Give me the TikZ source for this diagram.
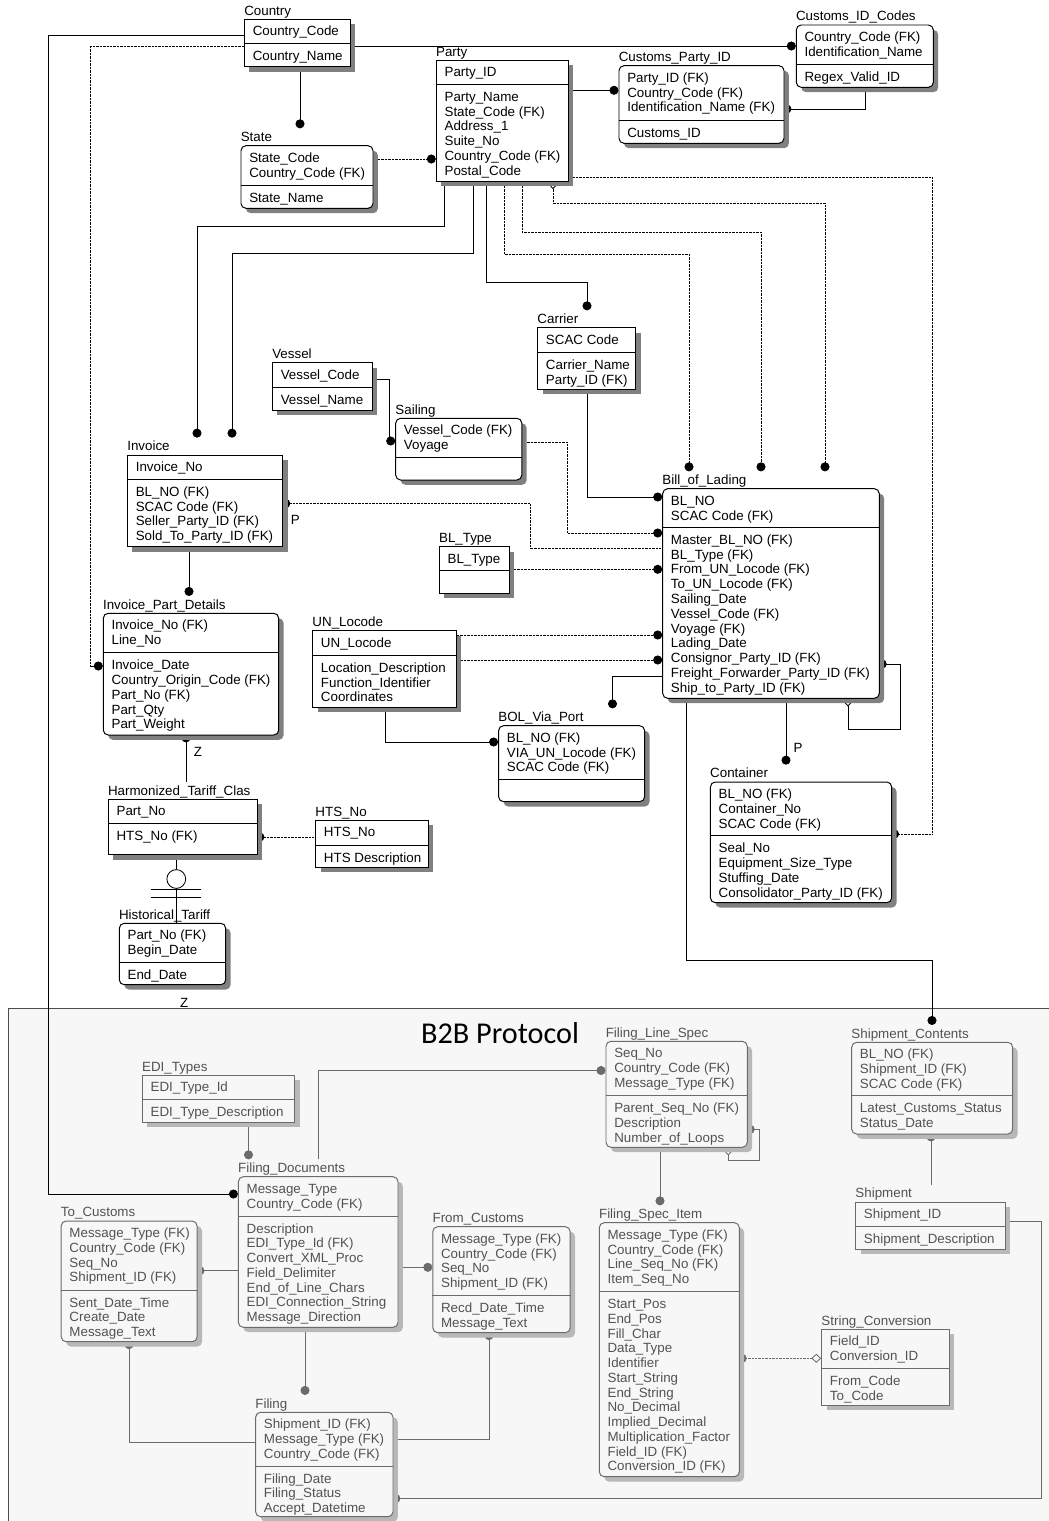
\documentclass[tikz,border=0pt]{standalone}
\usepackage{fontspec}
\setmainfont{Liberation Sans}
\newfontfamily\bannerfont{Carlito}
\usetikzlibrary{arrows.meta,calc,fit,shadows}
\pgfdeclarelayer{back}
\pgfdeclarelayer{lines}
\pgfsetlayers{back,lines,main}
\colorlet{linec}{black}
\colorlet{textc}{black}
\colorlet{boxc}{white}
\colorlet{shadowc}{black!50}
\newcommand{\efont}{\fontsize{9.5}{10.5}\selectfont}
% entity: [style]{name}{top left}{bottom right}{divider y}{title}{keys}{attributes}
\newcommand{\entity}[8][]{%
  \node[ent,#1,fit={(#3) (#4)}] (#2) {};
  \node[etitle] (#2-title) at ($(#2.north west)+(0,-3.8)$) {#6};
  \begin{scope}
    \clip (#3) rectangle ($(#4)+(-1.5,0)$);
    \node[etext] (#2-keys) at ($(#2.north west)+(8.5,0)$) {\rule{0pt}{12pt}#7};
    \node[etext] (#2-attrs) at ($(#2.west |- 0,#5)+(8.5,0)$) {\rule{0pt}{12pt}#8};
  \end{scope}
  \draw[sep] (#2.west |- 0,#5) -- (#2.east |- 0,#5);
}

\begin{document}
\begin{tikzpicture}[x=0.025cm,y=-0.025cm,
    ent/.style={draw=linec,fill=boxc,line width=0.7pt,inner sep=0pt,
      drop shadow={shadow xshift=3.5pt,shadow yshift=-3.5pt,fill=shadowc,opacity=1}},
    dep/.style={rounded corners=3.5pt},
    sep/.style={draw=linec,line width=0.7pt},
    etitle/.style={anchor=base west,inner sep=0pt,text=textc,font=\efont},
    etext/.style={anchor=north west,inner sep=0pt,align=left,text=textc,font=\efont},
    rel/.style={draw=linec,line width=0.6pt},
    nonid/.style={dash pattern=on 0.5pt off 0.5pt},
    erdot/.tip={Circle[length=6.4pt]},
    erdia/.tip={Diamond[open,length=7pt,width=6.4pt]},
    ontop/.style={shorten >=12pt},
    fromtop/.style={shorten <=12pt},
    pd/.style={shorten >=-1.5pt},
    lbl/.style={font=\efont,text=textc,inner sep=0pt}]
  \useasboundingbox (0,0) rectangle (1049,1521);
  \begin{pgfonlayer}{back}
    \fill[gray!6] (8.5,1008.5) rectangle (1049,1521);
    \draw[black!70,line width=0.7pt] (8.5,1521) |- (1049,1008.5);
  \end{pgfonlayer}
  \node[font=\bannerfont\fontsize{21.5}{24}\selectfont] (banner) at (500,1033) {B2B Protocol};

  % logistics entities
  \entity{country}{244.5,19.3}{350.2,66.7}{43.7}{Country}{Country\_Code}{Country\_Name}
  \entity{party}{436.3,60.3}{568.3,181}{84.3}{Party}{Party\_ID}{Party\_Name\\State\_Code (FK)\\Address\_1\\Suite\_No\\Country\_Code (FK)\\Postal\_Code}
  \entity[dep]{state}{241,145.7}{373,208.3}{185.3}{State}{State\_Code\\Country\_Code (FK)}{State\_Name}
  \entity[dep]{cidc}{796.3,25}{933.3,87.3}{64.3}{Customs\_ID\_Codes}{Country\_Code (FK)\\Identification\_Name}{Regex\_Valid\_ID}
  \entity[dep]{cpid}{619,65.7}{784,143.3}{120}{Customs\_Party\_ID}{Party\_ID (FK)\\Country\_Code (FK)\\Identification\_Name (FK)}{Customs\_ID}
  \entity{carrier}{537.7,327.7}{635.7,389.3}{352.3}{Carrier}{SCAC Code}{Carrier\_Name\\Party\_ID (FK)}
  \entity{vessel}{272.5,362.7}{372,410}{387.7}{Vessel}{Vessel\_Code}{Vessel\_Name}
  \entity[dep]{sailing}{395.7,418.3}{521.8,480}{457}{Sailing}{Vessel\_Code (FK)\\Voyage}{}
  \entity{invoice}{127.5,455}{282.9,546.7}{479.3}{Invoice}{Invoice\_No}{BL\_NO (FK)\\SCAC Code (FK)\\Seller\_Party\_ID (FK)\\Sold\_To\_Party\_ID (FK)}
  \entity{bltype}{439.3,546.7}{509,593.3}{570.7}{BL\_Type}{BL\_Type}{}
  \entity[dep]{bol}{662.7,488.7}{879.3,698.3}{527.3}{Bill\_of\_Lading}{BL\_NO\\SCAC Code (FK)}{Master\_BL\_NO (FK)\\BL\_Type (FK)\\From\_UN\_Locode (FK)\\To\_UN\_Locode (FK)\\Sailing\_Date\\Vessel\_Code (FK)\\Voyage (FK)\\Lading\_Date\\Consignor\_Party\_ID (FK)\\Freight\_Forwarder\_Party\_ID (FK)\\Ship\_to\_Party\_ID (FK)}
  \entity[dep]{bvp}{498.6,725.7}{644.6,801.7}{779.3}{BOL\_Via\_Port}{BL\_NO (FK)\\VIA\_UN\_Locode (FK)\\SCAC Code (FK)}{}
  \entity[dep]{container}{710.4,782}{891.7,902.7}{835.7}{Container}{BL\_NO (FK)\\Container\_No\\SCAC Code (FK)}{Seal\_No\\Equipment\_Size\_Type\\Stuffing\_Date\\Consolidator\_Party\_ID (FK)}
  \entity[dep]{ipd}{103.3,613.3}{278.7,735}{652.7}{Invoice\_Part\_Details}{Invoice\_No (FK)\\Line\_No}{Invoice\_Date\\Country\_Origin\_Code (FK)\\Part\_No (FK)\\Part\_Qty\\Part\_Weight}
  \entity{unloc}{312.7,630.7}{456.3,707}{655.3}{UN\_Locode}{UN\_Locode}{Location\_Description\\Function\_Identifier\\Coordinates}
  \entity{harm}{108.3,799.3}{257,854.7}{823.7}{Harmonized\_Tariff\_Clas}{Part\_No}{HTS\_No (FK)}
  \entity{hts}{315.7,820.3}{428.3,867.3}{845.7}{HTS\_No}{HTS\_No}{HTS Description}
  \entity[dep]{hist}{119.3,923.3}{225.7,984.7}{962.3}{Historical\_Tariff}{Part\_No (FK)\\Begin\_Date}{End\_Date}
  \node[circle,draw=linec,fill=white,line width=0.6pt,minimum size=0.47cm,inner sep=0pt] (sub) at (176.3,879) {};

  \begin{pgfonlayer}{lines}
    \draw[rel,-erdot,ontop] (country.south -| 300,0) -- (state.north -| 300,0);
    \draw[rel,nonid,-erdot] (state.east |- 0,159) -- (party.west |- 0,159);
    \draw[rel,-erdot] (country.east |- 0,46) -- (cidc.west |- 0,46);
    \draw[rel,nonid,-erdot] (country.west |- 0,46) -| (90.5,666) -- (ipd.west |- 0,666);
    \draw[rel,-erdot] (party.east |- 0,90.3) -- (cpid.west |- 0,90.3);
    \draw[rel,-erdot,pd] (cidc.south -| 865,0) |- (cpid.east |- 0,109);
    \draw[rel,nonid,-erdot,pd] (party.east |- 0,177.3) -| (932,834) -- (container.east |- 0,834);
    \draw[rel,-erdot,ontop] (party.south -| 444,0) |- (197,226) -- (invoice.north -| 197,0);
    \draw[rel,-erdot,ontop] (party.south -| 473,0) |- (232,253) -- (invoice.north -| 232,0);
    \draw[rel,-erdot,ontop] (party.south -| 486,0) |- (587,282) -- (carrier.north -| 587,0);
    \draw[rel,nonid,-erdot,ontop] (party.south -| 504,0) |- (689,254) -- (bol.north -| 689,0);
    \draw[rel,nonid,-erdot,ontop] (party.south -| 522,0) |- (761,232) -- (bol.north -| 761,0);
    \draw[rel,nonid,erdia-erdot,ontop,shorten <=-1.5pt] (party.south -| 553,0) |- (825,203) -- (bol.north -| 825,0);
    \draw[rel,-erdot] (vessel.east |- 0,379) -| (389.5,441) -- (sailing.west |- 0,441);
    \draw[rel,-erdot] (carrier.south -| 587,0) |- (bol.west |- 0,497);
    \draw[rel,nonid,-erdot] (sailing.east |- 0,442) -| (567,533) -- (bol.west |- 0,533);
    \draw[rel,nonid,-erdot,pd] (bol.west |- 0,548.3) -| (530,503.5) -- (invoice.east |- 0,503.5);
    \draw[rel,nonid,-erdot] (bltype.east |- 0,569.3) -- (bol.west |- 0,569.3);
    \draw[rel,nonid,-erdot] (unloc.east |- 0,635) -- (bol.west |- 0,635);
    \draw[rel,nonid,-erdot] (unloc.east |- 0,660) -- (bol.west |- 0,660);
    \draw[rel,-erdot,ontop] (bol.west |- 0,676) -| (bvp.north -| 612.5,0);
    \draw[rel,-erdot] (unloc.south -| 385,0) |- (bvp.west |- 0,742);
    \draw[rel,erdia-erdot,pd,shorten <=-1.5pt] (bol.south -| 848,0) |- (900,729) |- (bol.east |- 0,664);
    \draw[rel,-erdot,ontop] (bol.south -| 786,0) -- (container.north -| 786,0);
    \draw[rel,-erdot,ontop] (invoice.south -| 189,0) -- (ipd.north -| 189,0);
    \draw[rel,-erdot,pd,fromtop] (harm.north -| 186,0) -- (ipd.south -| 186,0);
    \draw[rel,nonid,-erdot,pd] (hts.west |- 0,837) -- (harm.east |- 0,837);
    \draw[rel] (harm.south -| sub.center) -- (sub.north);
    \draw[rel] (sub.south) -- (hist.north -| sub.center);
    \draw[rel] ($(sub.south)+(-25,1)$) -- ++(50,0);
    \draw[rel] ($(sub.south)+(-25,8.4)$) -- ++(50,0);
  \end{pgfonlayer}
  \node[lbl] (p-inv) at (295.4,520) {P};
  \node[lbl] (p-cont) at (798,748.3) {P};
  \node[lbl] (z-ipd) at (198,752.3) {Z};
  \node[lbl] (z-hist) at (184.3,1002.7) {Z};

  % B2B protocol entities
  \colorlet{linec}{black!58}
  \colorlet{textc}{black!68}
  \colorlet{boxc}{gray!6}
  \colorlet{shadowc}{black!28}
  \entity{edi}{142.4,1075.3}{294.7,1122.3}{1099}{EDI\_Types}{EDI\_Type\_Id}{EDI\_Type\_Description}
  \entity[dep]{fdoc}{238.4,1176.7}{398,1327.3}{1216}{Filing\_Documents}{Message\_Type\\Country\_Code (FK)}{Description\\EDI\_Type\_Id (FK)\\Convert\_XML\_Proc\\Field\_Delimiter\\End\_of\_Line\_Chars\\EDI\_Connection\_String\\Message\_Direction}
  \entity[dep]{fls}{606,1041.3}{747.3,1147.3}{1095.3}{Filing\_Line\_Spec}{Seq\_No\\Country\_Code (FK)\\Message\_Type (FK)}{Parent\_Seq\_No (FK)\\Description\\Number\_of\_Loops}
  \entity[dep]{shc}{851.7,1042.3}{1012.7,1134}{1095.7}{Shipment\_Contents}{BL\_NO (FK)\\Shipment\_ID (FK)\\SCAC Code (FK)}{Latest\_Customs\_Status\\Status\_Date}
  \entity{ship}{855.7,1202}{1005.3,1249}{1226.7}{Shipment}{Shipment\_ID}{Shipment\_Description}
  \entity[dep]{toc}{61.2,1221}{197.1,1341.7}{1290}{To\_Customs}{Message\_Type (FK)\\Country\_Code (FK)\\Seq\_No\\Shipment\_ID (FK)}{Sent\_Date\_Time\\Create\_Date\\Message\_Text}
  \entity[dep]{fromc}{432.8,1226.7}{570.2,1332.7}{1295.3}{From\_Customs}{Message\_Type (FK)\\Country\_Code (FK)\\Seq\_No\\Shipment\_ID (FK)}{Recd\_Date\_Time\\Message\_Text}
  \entity[dep]{filing}{255.6,1412.3}{393,1516.7}{1466}{Filing}{Shipment\_ID (FK)\\Message\_Type (FK)\\Country\_Code (FK)}{Filing\_Date\\Filing\_Status\\Accept\_Datetime}
  \entity[dep]{fsi}{599.3,1222.7}{739.3,1476.7}{1291.3}{Filing\_Spec\_Item}{Message\_Type (FK)\\Country\_Code (FK)\\Line\_Seq\_No (FK)\\Item\_Seq\_No}{Start\_Pos\\End\_Pos\\Fill\_Char\\Data\_Type\\Identifier\\Start\_String\\End\_String\\No\_Decimal\\Implied\_Decimal\\Multiplication\_Factor\\Field\_ID (FK)\\Conversion\_ID (FK)}
  \entity{strc}{821.7,1329.3}{949,1405}{1368.3}{String\_Conversion}{Field\_ID\\Conversion\_ID}{From\_Code\\To\_Code}

  \begin{pgfonlayer}{lines}
    \draw[rel,-erdot,ontop] (edi.south -| 248.5,0) -- (fdoc.north -| 248.5,0);
    \draw[rel,-erdot,fromtop] (fdoc.north -| 318.5,0) |- (fls.west |- 0,1070.5);
    \draw[rel,-erdot,ontop] (fls.south -| 660,0) -- (fsi.north -| 660,0);
    \draw[rel,erdia-erdot,pd,shorten <=-1.5pt] (fls.south -| 728.3,0) |- (759,1160) |- (fls.east |- 0,1129.3);
    \draw[rel,nonid,erdot-erdia,shorten <=-1.5pt] (fsi.east |- 0,1358.3) -- (strc.west |- 0,1358.3);
    \draw[rel,-erdot,pd,fromtop] (ship.north -| 931,0) -- (shc.south -| 931,0);
    \draw[rel,-erdot,pd] (ship.east |- 0,1221.7) -| (1041,1498.5) -- (filing.east |- 0,1498.5);
    \draw[rel,-erdot,pd] (fdoc.west |- 0,1270.7) -- (toc.east |- 0,1270.7);
    \draw[rel,-erdot] (fdoc.east |- 0,1267.3) -- (fromc.west |- 0,1267.3);
    \draw[rel,-erdot,ontop] (fdoc.south -| 305,0) -- (filing.north -| 305,0);
    \draw[rel,-erdot,pd] (filing.west |- 0,1442.7) -| (toc.south -| 129,0);
    \draw[rel,-erdot,pd] (filing.east |- 0,1439.3) -| (fromc.south -| 489,0);
    % links that cross into the protocol area
    \draw[rel,draw=black,-erdot] (country.west |- 0,35) -| (48,1194) -- (fdoc.west |- 0,1194);
    \draw[rel,draw=black,-erdot,ontop] (bol.south -| 686,0) |- (932,960) -- (shc.north -| 932,0);
  \end{pgfonlayer}
\end{tikzpicture}
\end{document}
